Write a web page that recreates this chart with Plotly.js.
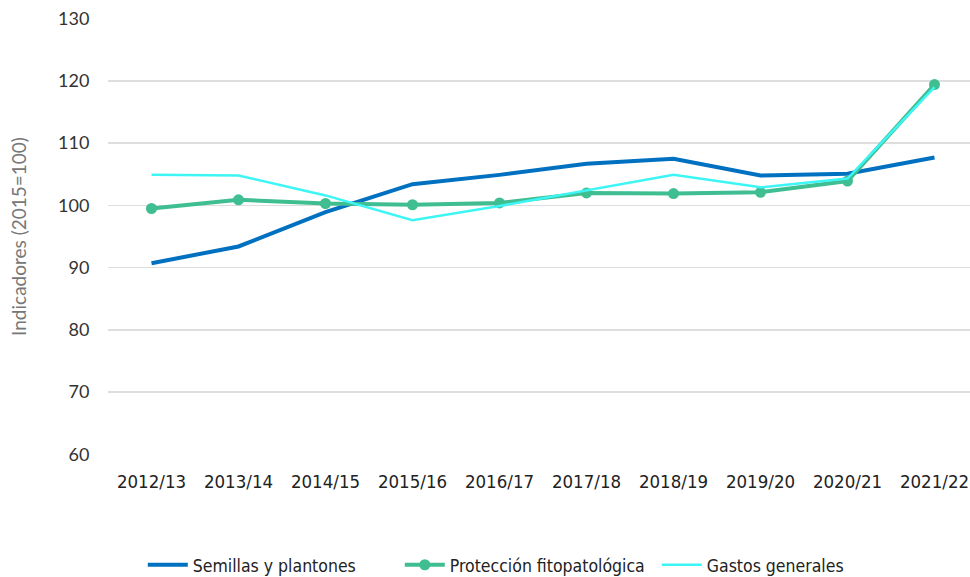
<!DOCTYPE html>
<html>
<head>
<meta charset="utf-8">
<script src="https://cdn.plot.ly/plotly-3.0.1.min.js"></script>
<style>
html,body{margin:0;padding:0;overflow:hidden;background:#fff;width:970px;height:577px;}
#chart{width:990px;height:577px;}
</style>
</head>
<body>
<div id="chart"></div>
<script>
const campaigns = ["2012/13","2013/14","2014/15","2015/16","2016/17","2017/18","2018/19","2019/20","2020/21","2021/22"];
const semillas = [90.7, 93.4, 98.9, 103.4, 104.9, 106.7, 107.5, 104.8, 105.1, 107.7];
const proteccion = [99.5, 100.9, 100.3, 100.1, 100.4, 102.0, 101.9, 102.1, 103.9, 119.4];
const gastos = [104.9, 104.8, 101.6, 97.6, 99.9, 102.4, 104.9, 102.9, 104.3, 119.0];
const yTicks = [60, 70, 80, 90, 100, 110, 120, 130];

const narrow = '"DejaVu Sans Condensed", "Liberation Sans Narrow", sans-serif';
const calib = 'Lato, "Open Sans", sans-serif';

const traces = [
  {x: campaigns, y: semillas, name: "Semillas y plantones", type: "scatter", mode: "lines",
   line: {color: "#0070c0", width: 4}},
  {x: campaigns, y: proteccion, name: "Protección fitopatológica", type: "scatter", mode: "lines+markers",
   line: {color: "#3fbe91", width: 4}, marker: {color: "#3fbe91", size: 11}},
  {x: campaigns, y: gastos, name: "Gastos generales", type: "scatter", mode: "lines",
   line: {color: "#3ef5f5", width: 2.5}}
];

const layout = {
  width: 990, height: 577,
  margin: {l: 108, r: 12, t: 18, b: 122, autoexpand: false},
  paper_bgcolor: "#fff", plot_bgcolor: "#fff",
  showlegend: true,
  legend: {orientation: "h", x: 0.04, xanchor: "left", yref: "container", y: 0.021, yanchor: "middle",
    font: {family: narrow, size: 17.5, color: "#222"}, itemwidth: 40, tracegroupgap: 0,
    entrywidth: 202, entrywidthmode: "pixels"},
  xaxis: {type: "category", range: [-0.5, 9.5], showgrid: false, zeroline: false, showline: false,
    ticks: "outside", ticklen: 10, tickcolor: "rgba(0,0,0,0)",
    tickfont: {family: narrow, size: 18.5, color: "#222"}},
  yaxis: {range: [59.9, 130.1], tickvals: yTicks, showgrid: true, gridcolor: "#dedede", gridwidth: 1.5,
    zeroline: false, showline: false, ticks: "outside", ticklen: 14, tickcolor: "rgba(0,0,0,0)",
    tickfont: {family: calib, size: 18, color: "#333"},
    title: {text: "Indicadores (2015=100)", standoff: 26,
      font: {family: calib, size: 19, color: "#777"}}},
  hovermode: false
};

Plotly.newPlot("chart", traces, layout, {displayModeBar: false, staticPlot: true});
</script>
</body>
</html>
